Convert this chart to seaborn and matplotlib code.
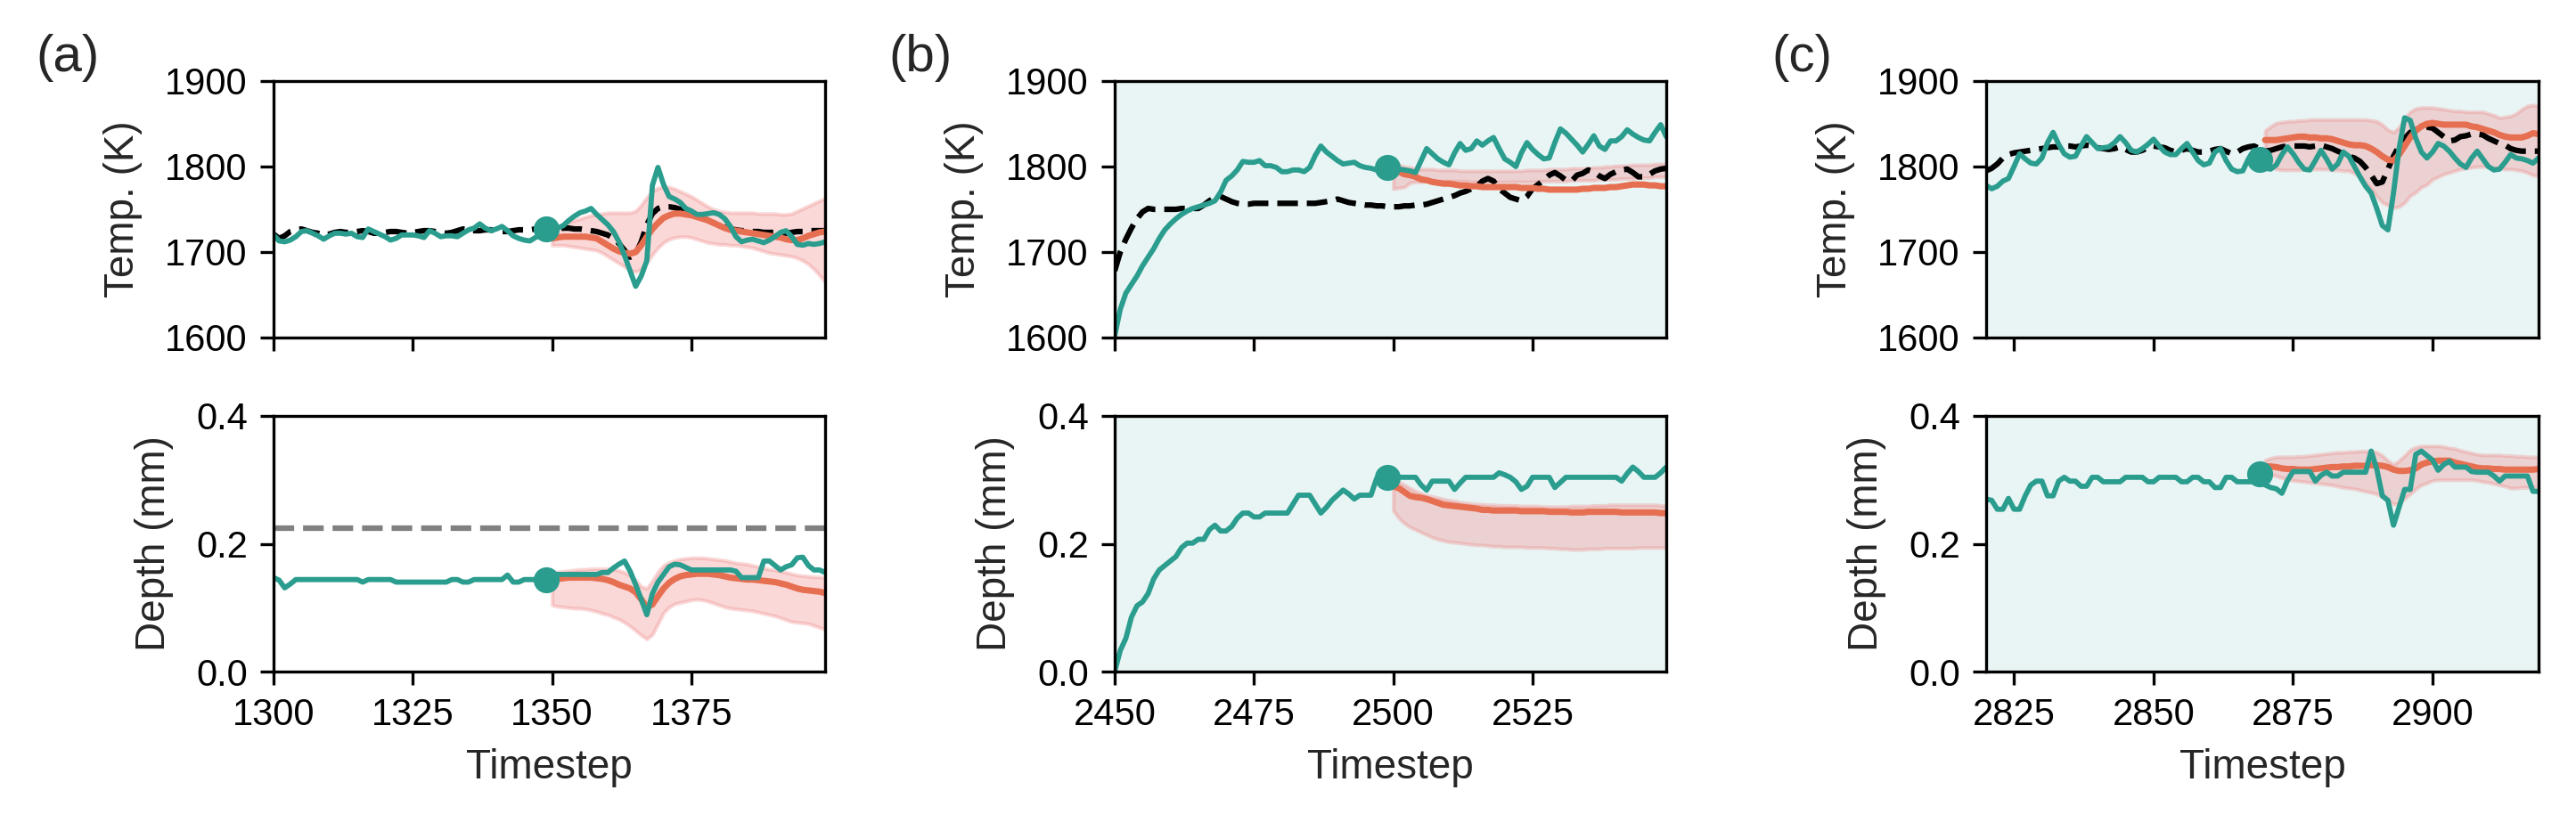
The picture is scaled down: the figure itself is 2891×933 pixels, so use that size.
import numpy as np
import matplotlib
matplotlib.use("Agg")
import matplotlib.pyplot as plt
from matplotlib.ticker import MultipleLocator
import seaborn as sns

sns.set_style("ticks")
plt.rcParams["font.family"] = ["Liberation Sans", "DejaVu Sans"]
plt.rcParams["font.size"] = 10
plt.rcParams["axes.labelsize"] = 11
plt.rcParams["xtick.labelsize"] = 10
plt.rcParams["ytick.labelsize"] = 10
plt.rcParams["axes.edgecolor"] = "black"
plt.rcParams["xtick.color"] = "black"
plt.rcParams["ytick.color"] = "black"
plt.rcParams["axes.linewidth"] = 0.8

TEAL = "#2a9d8f"
ORANGE = "#e76f51"
BAND = "lightcoral"
SHADE = "#e9f5f4"

# ---------------- panel (a): timesteps 1300-1399, forecast from 1350 ----------------
start_a = 1300
temp_obs_a = [1720, 1713, 1712, 1714, 1718, 1724, 1725, 1722, 1719, 1715,
              1719, 1722, 1722, 1721, 1722, 1718, 1717, 1727, 1724, 1721,
              1718, 1714, 1716, 1720, 1720, 1720, 1719, 1717, 1725, 1722,
              1718, 1719, 1719, 1718, 1722, 1726, 1728, 1733, 1728, 1725,
              1727, 1730, 1725, 1719, 1716, 1714, 1713, 1717, 1720, 1727,
              1726, 1728, 1731, 1737, 1742, 1746, 1748, 1751, 1744, 1738,
              1732, 1724, 1712, 1696, 1678, 1660, 1672, 1690, 1778, 1799,
              1779, 1765, 1762, 1758, 1751, 1748, 1744, 1744, 1745, 1746,
              1744, 1739, 1730, 1718, 1712, 1714, 1715, 1713, 1711, 1714,
              1718, 1723, 1725, 1718, 1709, 1708, 1710, 1709, 1710, 1712]
temp_ref_a = [1721, 1716, 1719, 1724, 1726, 1727, 1725, 1723, 1722, 1720,
              1721, 1723, 1724, 1723, 1723, 1724, 1725, 1724, 1722, 1722,
              1723, 1724, 1724, 1723, 1722, 1723, 1724, 1725, 1725, 1724,
              1723, 1722, 1723, 1725, 1727, 1726, 1725, 1725, 1726, 1726,
              1725, 1724, 1724, 1725, 1726, 1726, 1726, 1727, 1727, 1727,
              1727, 1727, 1728, 1728, 1727, 1727, 1726, 1725, 1724, 1722,
              1720, 1716, 1710, 1702, 1694, 1698, 1712, 1732, 1745, 1751,
              1753, 1753, 1752, 1750, 1747, 1744, 1742, 1740, 1737, 1734,
              1731, 1729, 1727, 1726, 1725, 1725, 1724, 1724, 1723, 1723,
              1723, 1722, 1722, 1723, 1724, 1724, 1725, 1725, 1725, 1725]
temp_pred_a = [1716, 1717, 1718, 1718, 1718, 1718, 1718, 1717, 1716, 1712,
               1708, 1704, 1701, 1699, 1698, 1700, 1708, 1718, 1727, 1734,
               1740, 1743, 1745, 1745, 1744, 1743, 1741, 1739, 1737, 1734,
               1731, 1728, 1726, 1725, 1724, 1723, 1722, 1721, 1720, 1719,
               1718, 1717, 1715, 1714, 1714, 1716, 1719, 1721, 1723, 1724]
temp_hi_a = [1724, 1728, 1732, 1735, 1737, 1739, 1741, 1743, 1744, 1745,
             1746, 1746, 1746, 1746, 1746, 1748, 1755, 1764, 1771, 1775,
             1776, 1776, 1774, 1771, 1768, 1765, 1761, 1757, 1753, 1750,
             1748, 1747, 1746, 1746, 1746, 1746, 1746, 1745, 1745, 1745,
             1745, 1744, 1744, 1745, 1748, 1751, 1754, 1757, 1760, 1763]
temp_lo_a = [1708, 1708, 1708, 1707, 1706, 1705, 1704, 1703, 1702, 1699,
             1695, 1691, 1687, 1683, 1679, 1677, 1680, 1688, 1697, 1705,
             1711, 1715, 1717, 1718, 1718, 1717, 1715, 1713, 1711, 1710,
             1709, 1709, 1708, 1708, 1707, 1706, 1705, 1703, 1701, 1699,
             1698, 1697, 1696, 1695, 1693, 1690, 1686, 1680, 1673, 1665]
depth_obs_a = [.147, .143, .131, .137, .144, .144, .144, .144, .144, .144,
               .144, .144, .144, .144, .144, .144, .140, .144, .144, .144,
               .144, .144, .140, .140, .140, .140, .140, .140, .140, .140,
               .140, .140, .144, .144, .140, .140, .144, .144, .144, .144,
               .144, .144, .151, .140, .140, .144, .144, .144, .144, .144,
               .152, .152, .152, .152, .152, .152, .152, .152, .152, .155,
               .155, .162, .168, .173, .157, .136, .113, .089, .122, .140,
               .152, .164, .168, .167, .163, .159, .159, .159, .159, .159,
               .159, .159, .159, .157, .147, .147, .147, .147, .173, .173,
               .166, .159, .164, .167, .178, .179, .166, .159, .159, .155]
depth_pred_a = [.144, .145, .146, .147, .147, .147, .147, .147, .146, .145,
                .143, .140, .136, .133, .130, .124, .113, .101, .105, .118,
                .130, .139, .145, .149, .151, .152, .153, .153, .153, .152,
                .151, .149, .147, .146, .145, .144, .144, .143, .142, .141,
                .140, .138, .136, .133, .130, .128, .127, .126, .125, .123]
depth_hi_a = [.154, .156, .157, .158, .159, .160, .160, .161, .161, .161,
              .161, .160, .158, .155, .150, .143, .133, .130, .142, .156,
              .166, .171, .174, .176, .177, .178, .178, .178, .177, .176,
              .175, .174, .172, .170, .169, .168, .166, .164, .162, .160,
              .159, .157, .155, .153, .151, .150, .149, .148, .148, .147]
depth_lo_a = [.104, .102, .101, .100, .099, .099, .098, .096, .094, .091,
              .089, .085, .082, .077, .071, .064, .057, .051, .058, .075,
              .092, .101, .106, .108, .110, .112, .113, .112, .110, .107,
              .104, .101, .099, .098, .097, .096, .095, .093, .091, .089,
              .087, .084, .081, .078, .077, .076, .075, .072, .069, .066]
depth_limit_a = 0.225

# ---------------- panel (b): timesteps 2450-2549, forecast from 2500 ----------------
start_b = 2450
temp_obs_b = [1602, 1633, 1652, 1662, 1672, 1684, 1694, 1704, 1716, 1726,
              1733, 1739, 1744, 1748, 1751, 1753, 1755, 1757, 1760, 1770,
              1784, 1789, 1796, 1806, 1805, 1805, 1807, 1801, 1801, 1799,
              1794, 1794, 1796, 1796, 1794, 1799, 1813, 1824, 1817, 1812,
              1807, 1803, 1804, 1805, 1801, 1799, 1798, 1796, 1797, 1799,
              1797, 1797, 1796, 1795, 1793, 1807, 1821, 1815, 1809, 1805,
              1802, 1816, 1827, 1819, 1821, 1830, 1825, 1830, 1834, 1821,
              1809, 1805, 1800, 1816, 1828, 1820, 1814, 1809, 1810, 1828,
              1844, 1839, 1832, 1825, 1817, 1826, 1836, 1824, 1820, 1830,
              1830, 1835, 1843, 1838, 1834, 1831, 1830, 1840, 1849, 1835]
temp_ref_b = [1678, 1700, 1715, 1728, 1739, 1747, 1751, 1750, 1750, 1750,
              1750, 1750, 1751, 1751, 1751, 1751, 1755, 1760, 1764, 1765,
              1762, 1759, 1757, 1756, 1756, 1757, 1757, 1757, 1757, 1757,
              1757, 1757, 1757, 1757, 1757, 1757, 1757, 1758, 1759, 1760,
              1762, 1760, 1758, 1757, 1756, 1755, 1755, 1754, 1754, 1753,
              1753, 1753, 1754, 1754, 1755, 1755, 1756, 1758, 1760, 1762,
              1764, 1766, 1769, 1771, 1774, 1777, 1783, 1786, 1783, 1774,
              1769, 1764, 1762, 1760, 1765, 1774, 1779, 1784, 1790, 1793,
              1789, 1784, 1783, 1790, 1792, 1796, 1794, 1789, 1786, 1791,
              1794, 1796, 1797, 1793, 1788, 1788, 1791, 1795, 1797, 1798]
temp_pred_b = [1796, 1794, 1791, 1790, 1788, 1785, 1784, 1782, 1781, 1780,
               1780, 1779, 1778, 1778, 1777, 1777, 1776, 1776, 1776, 1776,
               1776, 1776, 1776, 1775, 1775, 1775, 1774, 1774, 1773, 1773,
               1773, 1773, 1773, 1773, 1774, 1774, 1775, 1775, 1775, 1776,
               1776, 1777, 1778, 1779, 1779, 1779, 1778, 1778, 1777, 1777]
temp_hi_b = [1803, 1802, 1800, 1799, 1798, 1797, 1797, 1797, 1796, 1796,
             1796, 1796, 1795, 1795, 1795, 1795, 1795, 1795, 1795, 1795,
             1795, 1795, 1795, 1795, 1796, 1796, 1796, 1796, 1797, 1797,
             1797, 1797, 1798, 1798, 1798, 1798, 1799, 1799, 1800, 1800,
             1801, 1801, 1801, 1802, 1802, 1802, 1802, 1803, 1803, 1803]
temp_lo_b = [1774, 1775, 1776, 1781, 1782, 1782, 1783, 1783, 1783, 1783,
             1783, 1783, 1783, 1783, 1782, 1782, 1782, 1782, 1782, 1782,
             1782, 1782, 1782, 1782, 1782, 1782, 1783, 1783, 1783, 1783,
             1783, 1783, 1784, 1784, 1784, 1784, 1784, 1785, 1785, 1785,
             1785, 1786, 1786, 1786, 1787, 1787, 1787, 1788, 1788, 1788]
depth_obs_b = [.000, .033, .052, .085, .103, .109, .122, .145, .159, .166,
               .173, .180, .194, .201, .201, .207, .207, .222, .229, .220,
               .220, .227, .240, .248, .248, .242, .242, .248, .248, .248,
               .248, .248, .262, .276, .276, .276, .262, .248, .257, .268,
               .276, .284, .278, .270, .276, .276, .276, .302, .306, .304,
               .304, .304, .304, .304, .304, .292, .284, .298, .298, .298,
               .298, .285, .295, .304, .304, .304, .304, .304, .304, .311,
               .308, .304, .297, .285, .290, .304, .304, .304, .304, .288,
               .296, .304, .304, .304, .304, .304, .304, .304, .304, .304,
               .304, .298, .310, .320, .313, .304, .304, .304, .311, .320]
depth_pred_b = [.290, .287, .281, .275, .273, .272, .270, .267, .264, .261,
                .260, .259, .258, .257, .256, .255, .253, .253, .252, .252,
                .252, .252, .252, .251, .251, .251, .251, .251, .250, .250,
                .250, .250, .249, .249, .249, .250, .250, .250, .250, .250,
                .250, .249, .249, .249, .249, .249, .249, .249, .248, .248]
depth_hi_b = [.301, .297, .292, .287, .282, .279, .276, .274, .272, .270,
              .268, .267, .265, .264, .263, .262, .262, .261, .261, .260,
              .260, .260, .260, .259, .259, .259, .259, .258, .258, .258,
              .258, .258, .259, .259, .259, .259, .260, .260, .260, .261,
              .261, .261, .261, .261, .261, .261, .261, .261, .260, .260]
depth_lo_b = [.252, .240, .232, .226, .222, .218, .214, .210, .207, .205,
              .203, .202, .201, .200, .199, .198, .198, .197, .196, .196,
              .195, .195, .195, .195, .194, .194, .194, .194, .193, .193,
              .192, .192, .191, .191, .191, .192, .192, .192, .193, .193,
              .193, .193, .193, .193, .194, .194, .194, .194, .194, .194]

# ---------------- panel (c): timesteps 2820-2919, forecast from 2870 ----------------
start_c = 2820
temp_obs_c = [1778, 1774, 1777, 1783, 1786, 1800, 1815, 1809, 1804, 1803,
              1810, 1828, 1840, 1826, 1815, 1811, 1812, 1824, 1835, 1828,
              1821, 1822, 1823, 1828, 1835, 1828, 1819, 1817, 1821, 1826,
              1832, 1824, 1817, 1814, 1814, 1821, 1827, 1817, 1807, 1802,
              1804, 1817, 1821, 1807, 1797, 1794, 1795, 1809, 1819, 1808,
              1798, 1797, 1802, 1814, 1823, 1815, 1805, 1797, 1796, 1807,
              1819, 1809, 1797, 1803, 1817, 1812, 1800, 1788, 1777, 1769,
              1751, 1731, 1726, 1769, 1821, 1857, 1854, 1833, 1817, 1810,
              1817, 1827, 1824, 1818, 1810, 1803, 1799, 1810, 1818, 1809,
              1800, 1796, 1797, 1805, 1814, 1810, 1809, 1807, 1804, 1810]
temp_ref_c = [1795, 1798, 1803, 1810, 1814, 1816, 1817, 1818, 1819, 1820,
              1821, 1822, 1823, 1823, 1824, 1824, 1823, 1824, 1825, 1824,
              1822, 1821, 1820, 1821, 1823, 1820, 1817, 1817, 1819, 1822,
              1824, 1823, 1822, 1819, 1817, 1819, 1821, 1819, 1817, 1817,
              1818, 1820, 1821, 1818, 1815, 1817, 1821, 1823, 1824, 1821,
              1818, 1819, 1821, 1823, 1824, 1824, 1824, 1824, 1823, 1824,
              1825, 1823, 1821, 1818, 1815, 1812, 1810, 1806, 1799, 1790,
              1780, 1782, 1797, 1812, 1824, 1833, 1840, 1843, 1845, 1846,
              1845, 1840, 1835, 1830, 1831, 1835, 1836, 1838, 1838, 1837,
              1833, 1830, 1827, 1825, 1821, 1819, 1818, 1818, 1818, 1818]
temp_pred_c = [1831, 1831, 1831, 1832, 1833, 1834, 1835, 1835, 1834, 1834,
               1833, 1833, 1832, 1830, 1828, 1826, 1825, 1825, 1824, 1821,
               1817, 1812, 1808, 1807, 1814, 1824, 1834, 1842, 1847, 1850,
               1851, 1850, 1849, 1849, 1849, 1849, 1849, 1847, 1846, 1844,
               1842, 1840, 1837, 1835, 1834, 1834, 1834, 1836, 1839, 1838]
temp_hi_c = [1842, 1847, 1851, 1852, 1853, 1853, 1854, 1854, 1855, 1855,
             1855, 1855, 1855, 1855, 1855, 1855, 1855, 1855, 1855, 1854,
             1853, 1849, 1843, 1840, 1846, 1857, 1864, 1868, 1869, 1869,
             1869, 1868, 1867, 1866, 1865, 1865, 1864, 1864, 1864, 1864,
             1862, 1860, 1857, 1858, 1859, 1862, 1867, 1871, 1872, 1871]
temp_lo_c = [1803, 1800, 1797, 1796, 1796, 1796, 1796, 1797, 1797, 1797,
             1797, 1797, 1796, 1796, 1795, 1795, 1792, 1788, 1781, 1774,
             1765, 1758, 1755, 1752, 1753, 1758, 1766, 1770, 1776, 1779,
             1785, 1788, 1791, 1793, 1795, 1797, 1798, 1799, 1800, 1800,
             1800, 1799, 1798, 1797, 1797, 1796, 1795, 1793, 1790, 1789]
depth_obs_c = [.270, .268, .254, .254, .271, .254, .254, .275, .292, .298,
               .298, .275, .275, .298, .304, .298, .298, .290, .290, .304,
               .304, .297, .297, .297, .297, .304, .304, .304, .304, .297,
               .297, .304, .304, .304, .304, .297, .297, .304, .304, .297,
               .297, .288, .288, .304, .304, .297, .297, .297, .297, .310,
               .292, .288, .286, .279, .299, .313, .313, .313, .313, .298,
               .307, .312, .306, .306, .312, .312, .312, .312, .312, .345,
               .317, .275, .268, .229, .257, .285, .285, .340, .345, .338,
               .331, .315, .324, .329, .320, .320, .320, .313, .312, .312,
               .312, .306, .298, .306, .306, .306, .306, .306, .282, .282]
depth_pred_c = [.321, .321, .320, .318, .317, .317, .316, .316, .316, .317,
                .318, .319, .320, .320, .321, .321, .322, .322, .322, .323,
                .323, .322, .320, .316, .314, .314, .315, .318, .324, .327,
                .329, .330, .330, .330, .327, .325, .323, .321, .319, .318,
                .318, .317, .317, .316, .316, .316, .316, .316, .316, .317]
depth_hi_c = [.331, .334, .336, .336, .336, .336, .337, .337, .338, .339,
              .340, .341, .342, .343, .343, .344, .344, .345, .345, .345,
              .343, .338, .330, .324, .330, .338, .347, .351, .353, .353,
              .353, .353, .352, .350, .349, .346, .344, .342, .340, .339,
              .339, .339, .339, .338, .338, .337, .337, .336, .336, .336]
depth_lo_c = [.310, .308, .306, .303, .301, .299, .298, .297, .296, .295,
              .294, .293, .292, .290, .288, .287, .286, .284, .282, .280,
              .278, .273, .268, .262, .263, .271, .278, .286, .292, .295,
              .299, .300, .300, .300, .300, .300, .300, .300, .299, .297,
              .296, .294, .292, .290, .287, .287, .288, .288, .289, .289]

panels = [
    dict(label="(a)", start=start_a, bg="white", limit=depth_limit_a,
         temp=(temp_obs_a, temp_ref_a, temp_pred_a, temp_lo_a, temp_hi_a),
         depth=(depth_obs_a, depth_pred_a, depth_lo_a, depth_hi_a)),
    dict(label="(b)", start=start_b, bg=SHADE, limit=None,
         temp=(temp_obs_b, temp_ref_b, temp_pred_b, temp_lo_b, temp_hi_b),
         depth=(depth_obs_b, depth_pred_b, depth_lo_b, depth_hi_b)),
    dict(label="(c)", start=start_c, bg=SHADE, limit=None,
         temp=(temp_obs_c, temp_ref_c, temp_pred_c, temp_lo_c, temp_hi_c),
         depth=(depth_obs_c, depth_pred_c, depth_lo_c, depth_hi_c)),
]

W, H = 2891, 933
fig = plt.figure(figsize=(W / 300, H / 300), dpi=300)

# axes boxes in pixels (left, right) per column; (top, bottom) per row
cols = [(307, 926), (1251, 1870), (2229, 2849)]
rows = [(91, 379), (467, 754)]
label_x = [40, 997, 1988]


def box(c, r):
    l, rr = cols[c]
    t, b = rows[r]
    return [l / W, 1 - b / H, (rr - l) / W, (b - t) / H]


for i, p in enumerate(panels):
    t_all = np.arange(p["start"], p["start"] + 100)
    t_pred = t_all[50:]
    ax_t = fig.add_axes(box(i, 0))
    ax_d = fig.add_axes(box(i, 1))

    obs, ref, pred, lo, hi = p["temp"]
    ax_t.set_facecolor(p["bg"])
    ax_t.fill_between(t_pred, lo, hi, color=BAND, alpha=0.3, linewidth=1)
    sns.lineplot(x=t_all, y=ref, ax=ax_t, color="black", linestyle="--", linewidth=1.5)
    sns.lineplot(x=t_pred, y=pred, ax=ax_t, color=ORANGE, linewidth=1.7)
    sns.lineplot(x=t_all, y=obs, ax=ax_t, color=TEAL, linewidth=1.4)
    ax_t.plot(t_all[49], obs[49], "o", color=TEAL, ms=6, zorder=5)
    ax_t.set_ylim(1600, 1900)
    ax_t.set_yticks([1600, 1700, 1800, 1900])
    ax_t.set_ylabel("Temp. (K)", labelpad=6)
    ax_t.tick_params(labelbottom=False)

    obs, pred, lo, hi = p["depth"]
    ax_d.set_facecolor(p["bg"])
    if p["limit"] is not None:
        ax_d.axhline(p["limit"], color="gray", linestyle="--", linewidth=1.5)
    ax_d.fill_between(t_pred, lo, hi, color=BAND, alpha=0.3, linewidth=1)
    sns.lineplot(x=t_pred, y=pred, ax=ax_d, color=ORANGE, linewidth=1.7)
    sns.lineplot(x=t_all, y=obs, ax=ax_d, color=TEAL, linewidth=1.4)
    ax_d.plot(t_all[49], obs[49], "o", color=TEAL, ms=6, zorder=5)
    ax_d.set_ylim(0, 0.4)
    ax_d.set_yticks([0.0, 0.2, 0.4])
    ax_d.set_ylabel("Depth (mm)", labelpad=6)
    ax_d.set_xlabel("Timestep")

    for ax in (ax_t, ax_d):
        ax.set_xlim(t_all[0], t_all[-1])
        ax.xaxis.set_major_locator(MultipleLocator(25))
        for s in ax.spines.values():
            s.set_visible(True)
            s.set_color("black")

    fig.text(label_x[i] / W, 1 - 38 / H, p["label"], fontsize=14, ha="left", va="top")

fig.savefig("out.png", dpi=300)
